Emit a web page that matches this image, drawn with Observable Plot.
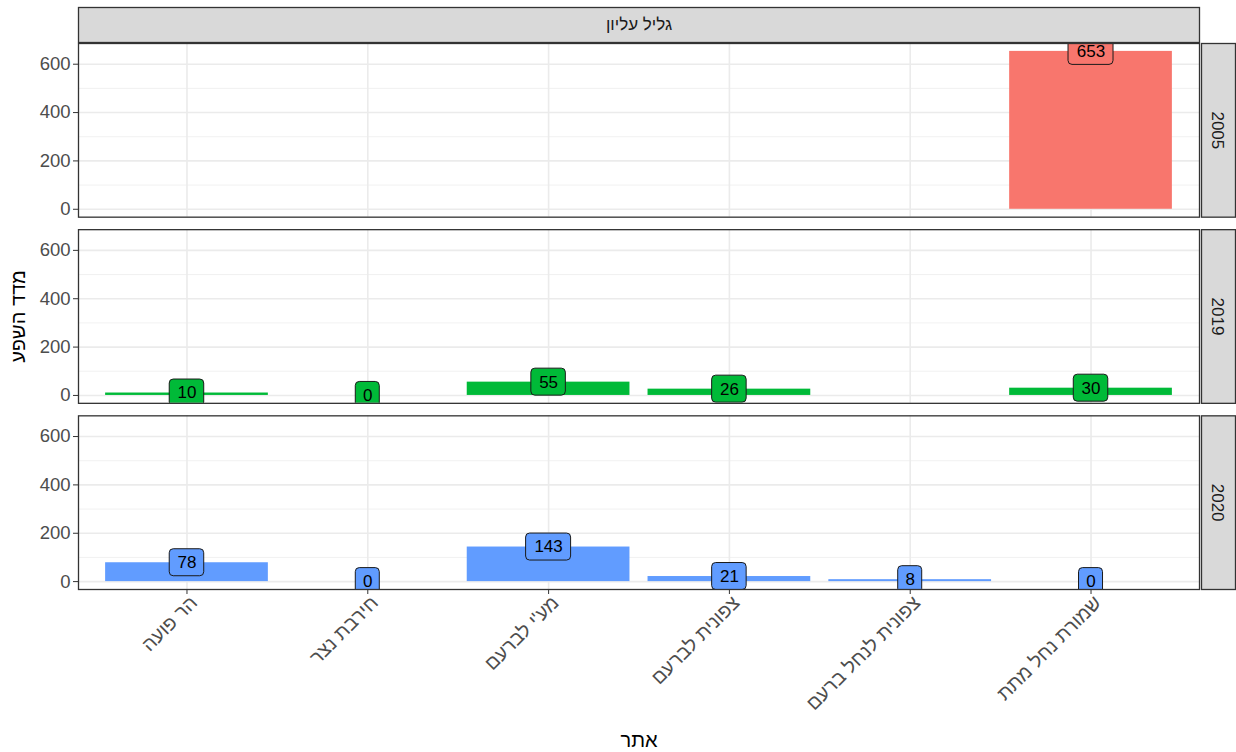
<!DOCTYPE html>
<html><head><meta charset="utf-8">
<script src="https://cdn.jsdelivr.net/npm/d3@7"></script>
<script src="https://cdn.jsdelivr.net/npm/@observablehq/plot@0.6"></script>
<style>body{margin:0;background:#fff}</style>
</head><body><div id="chart"></div>
<script>
const region = "גליל עליון";
const sites = ["הר פועה","חירבת נצר","מע'י לברעם","צפונית לברעם","צפונית לנחל ברעם","שמורת נחל מתת"];
const years = ["2005","2019","2020"];
const values2005 = [null,null,null,null,null,653];
const values2019 = [10,0,55,26,null,30];
const values2020 = [78,0,143,21,8,0];
const yearColors = ["#F8766D","#00BA38","#619CFF"];
const yTicks = [0,200,400,600];
const yMinor = [100,300,500];
const yTitle = "מדד השפע";
const xTitle = "אתר";

const rows = [];
[values2005, values2019, values2020].forEach((vals, k) =>
  vals.forEach((v, i) => { if (v != null) rows.push({region, year: years[k], site: sites[i], value: v}); }));

// layout
const W = 1236, H = 752, mL = 78, mR = 37, mT = 43, mB = 163;
const panelW = W - mL - mR;
const step = panelW / 6.2, bw = 0.9 * step;
const gap = 12.5, facetH = (H - mT - mB - 2 * gap) / 3;
const padInner = gap / (facetH + gap);
const vmax = d3.max(rows, d => d.value);
const yDom = [-0.05 * vmax, 1.05 * vmax];
const FONT = "'Liberation Sans', Arial, 'DejaVu Sans', sans-serif";

const labelMarks = [1, 2, 3].map(n => {
  const w = 13.5 + 10.5 * n;
  return Plot.barY(rows.filter(d => String(d.value).length === n), {
    x: "site", y1: "value", y2: "value", fx: "region", fy: "year", fill: "year",
    stroke: "#1a1a1a", strokeWidth: 1, rx: 4,
    insetLeft: (bw - w) / 2, insetRight: (bw - w) / 2, insetTop: -13.5, insetBottom: -13.5,
    clip: true
  });
});

const chart = Plot.plot({
  width: W, height: H,
  marginLeft: mL, marginRight: mR, marginTop: mT, marginBottom: mB,
  style: {fontFamily: FONT, fontSize: "16px", background: "white", overflow: "visible"},
  x: {domain: sites, paddingInner: 0.1, paddingOuter: 0.15, align: 0.5, round: false},
  y: {domain: yDom},
  fx: {domain: [region], padding: 0, axis: null, round: false},
  fy: {domain: years, paddingInner: padInner, paddingOuter: 0, axis: null, round: false},
  color: {domain: years, range: yearColors},
  marks: [
    Plot.ruleY(yMinor, {stroke: "#EFEFEF", strokeWidth: 0.9}),
    Plot.ruleY(yTicks, {stroke: "#EBEBEB", strokeWidth: 1.6}),
    Plot.ruleX(sites, {x: d => d, stroke: "#EBEBEB", strokeWidth: 1.6}),
    Plot.barY(rows, {x: "site", y: "value", fx: "region", fy: "year", fill: "year", clip: true}),
    ...labelMarks,
    Plot.text(rows, {x: "site", y: "value", fx: "region", fy: "year", text: d => String(d.value),
      fontSize: 17, fill: "black", clip: true}),
    Plot.frame({stroke: "#333", strokeWidth: 1.3}),
    Plot.frame({fill: "#D9D9D9", stroke: "#333", strokeWidth: 1.3, insetLeft: panelW + 2, insetRight: -36}),
    Plot.frame({facetAnchor: "top", fill: "#D9D9D9", stroke: "#333", strokeWidth: 1.3,
      insetTop: -36, insetBottom: facetH + 1}),
    Plot.text(years, {fy: d => d, text: d => d, frameAnchor: "right", textAnchor: "middle",
      lineAnchor: "middle", dx: 18, rotate: 90, fontSize: 17, fill: "#1A1A1A"}),
    Plot.text([region], {fx: d => d, text: d => d, frameAnchor: "top", lineAnchor: "middle",
      dy: -19, facetAnchor: "top", fontSize: 17, fill: "#1A1A1A"}),
    Plot.axisY({ticks: yTicks, tickSize: 5, tickPadding: 3, fontSize: 18.5, fill: "#4D4D4D", stroke: "#333", label: null}),
    Plot.axisX({tickSize: 5, tickFormat: () => "", stroke: "#333", label: null}),
    Plot.axisX({tickSize: 0, tickRotate: -45, tickPadding: 8, dx: 7, dy: 2, fontSize: 19.5,
      fill: "#4D4D4D", label: null}),
    Plot.text([yTitle], {facet: "super", frameAnchor: "left", textAnchor: "middle", lineAnchor: "middle",
      dx: -60, rotate: -90, fontSize: 20, fill: "black"}),
    Plot.text([xTitle], {facet: "super", frameAnchor: "bottom", lineAnchor: "middle",
      dy: 151, fontSize: 20, fill: "black"})
  ]
});
document.getElementById("chart").appendChild(chart);
</script>
</body></html>
